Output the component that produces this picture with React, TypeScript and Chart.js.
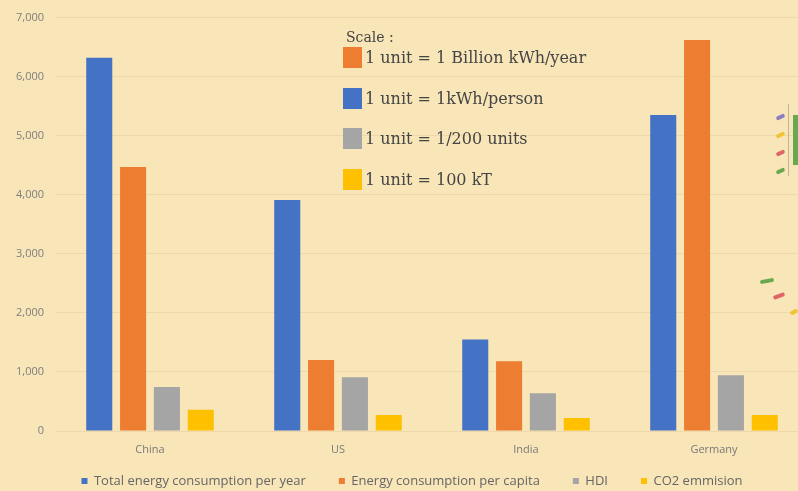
import React, { useEffect, useRef } from "react";
import { Chart, registerables } from "chart.js";

Chart.register(...registerables);

const categories = ["China", "US", "India", "Germany"];
const totalPerYear = [6320, 3910, 1550, 5350];
const perCapita = [4470, 1200, 1180, 6620];
const hdi = [745, 910, 640, 945];
const co2 = [360, 270, 220, 270];
const yTicks = [0, 1000, 2000, 3000, 4000, 5000, 6000, 7000];
const seriesNames = ["Total energy consumption per year", "Energy consumption per capita", "HDI", "CO2 emmision"];
const scaleTitle = "Scale :";
const scaleLines = ["1 unit = 1 Billion kWh/year", "1 unit = 1kWh/person", "1 unit = 1/200 units", "1 unit = 100 kT"];

const BG = "#f8e5b8";
const COLORS = ["#4472c4", "#ed7d31", "#a5a5a5", "#ffc000"];
const SCALE_COLORS = ["#ed7d31", "#4472c4", "#a5a5a5", "#ffc000"];

const legendPlace = {
  id: "legendPlace",
  afterLayout(chart: any) {
    const lg = chart.legend;
    if (!lg) return;
    const pad = 33;
    const itemH = 13;
    const top = 481 - pad - itemH / 2;
    const h = lg.height;
    lg.top = top;
    lg.bottom = top + h;
    lg.left += 8;
    lg.right += 8;
  },
};

export default function App() {
  const ref = useRef<HTMLCanvasElement | null>(null);
  useEffect(() => {
    if (!ref.current) return;
    const series = [totalPerYear, perCapita, hdi, co2];
    const chart = new Chart(ref.current, {
      type: "bar",
      data: {
        labels: categories,
        datasets: series.map((d, i) => ({
          label: seriesNames[i],
          data: d,
          backgroundColor: COLORS[i],
          borderWidth: 0,
          categoryPercentage: 0.72,
          barPercentage: 0.77,
        })),
      },
      plugins: [legendPlace],
      options: {
        animation: false,
        responsive: false,
        maintainAspectRatio: false,
        layout: { padding: { top: 6, left: 0, right: 0, bottom: -26 } },
        plugins: {
          tooltip: { enabled: false },
          legend: {
            position: "bottom",
            labels: {
              boxWidth: 6,
              boxHeight: 6,
              padding: 33,
              color: "#666666",
              font: { family: "Open Sans", size: 13 },
            },
          },
        },
        scales: {
          x: {
            afterFit: (s: any) => {
              s.height = 30;
            },
            grid: { display: false },
            border: { display: false },
            ticks: { color: "#7a7a7a", font: { family: "Open Sans", size: 11 }, padding: 4 },
          },
          y: {
            min: 0,
            max: 7000,
            afterFit: (s: any) => {
              s.width = 56;
            },
            afterBuildTicks: (s: any) => {
              s.ticks = yTicks.map((v) => ({ value: v }));
            },
            grid: { color: "#ecd8a8", drawTicks: false },
            border: { display: false },
            ticks: {
              color: "#7f7f7f",
              font: { family: "Open Sans", size: 11, lineHeight: 1 },
              padding: 12,
              callback: (v: any) => Number(v).toLocaleString("en-US"),
            },
          },
        },
      },
    });
    return () => chart.destroy();
  }, []);

  const dash = (x: number, y: number, c: string, rot: number, w = 9) => (
    <div
      style={{
        position: "absolute",
        left: x,
        top: y,
        width: w,
        height: 4,
        borderRadius: 2,
        background: c,
        transform: `rotate(${rot}deg)`,
      }}
    />
  );

  const serif = "Georgia, 'DejaVu Serif', serif";

  return (
    <div style={{ position: "fixed", left: 0, top: 0, width: 798, height: 491, overflow: "hidden", background: BG }}>
      <canvas ref={ref} width={808} height={491} style={{ position: "absolute", left: 0, top: 0, width: 808, height: 491 }} />
      <div style={{ position: "absolute", left: 346, top: 29, fontFamily: serif, fontSize: 14, color: "#454545" }}>
        {scaleTitle}
      </div>
      {scaleLines.map((t, i) => (
        <div key={i} style={{ position: "absolute", left: 343, top: 47 + i * 40.5, height: 21, display: "flex", alignItems: "center" }}>
          <div style={{ width: 19, height: 21, background: SCALE_COLORS[i], marginRight: 3 }} />
          <span style={{ fontFamily: serif, fontSize: 16, color: "#454545", whiteSpace: "nowrap" }}>{t}</span>
        </div>
      ))}
      {dash(776, 115, "#8e7cc3", -25)}
      {dash(776, 133, "#f1c232", -25)}
      {dash(776, 151, "#e06666", -25)}
      {dash(776, 169, "#6aa84f", -25)}
      <div style={{ position: "absolute", left: 788, top: 104, width: 1, height: 72, background: "#bfb39a" }} />
      <div style={{ position: "absolute", left: 793, top: 115, width: 6, height: 50, background: "#6aa84f" }} />
      {dash(760, 279, "#6aa84f", -10, 14)}
      {dash(773, 294, "#e06666", -20, 12)}
      {dash(790, 310, "#f1c232", -30, 8)}
    </div>
  );
}
